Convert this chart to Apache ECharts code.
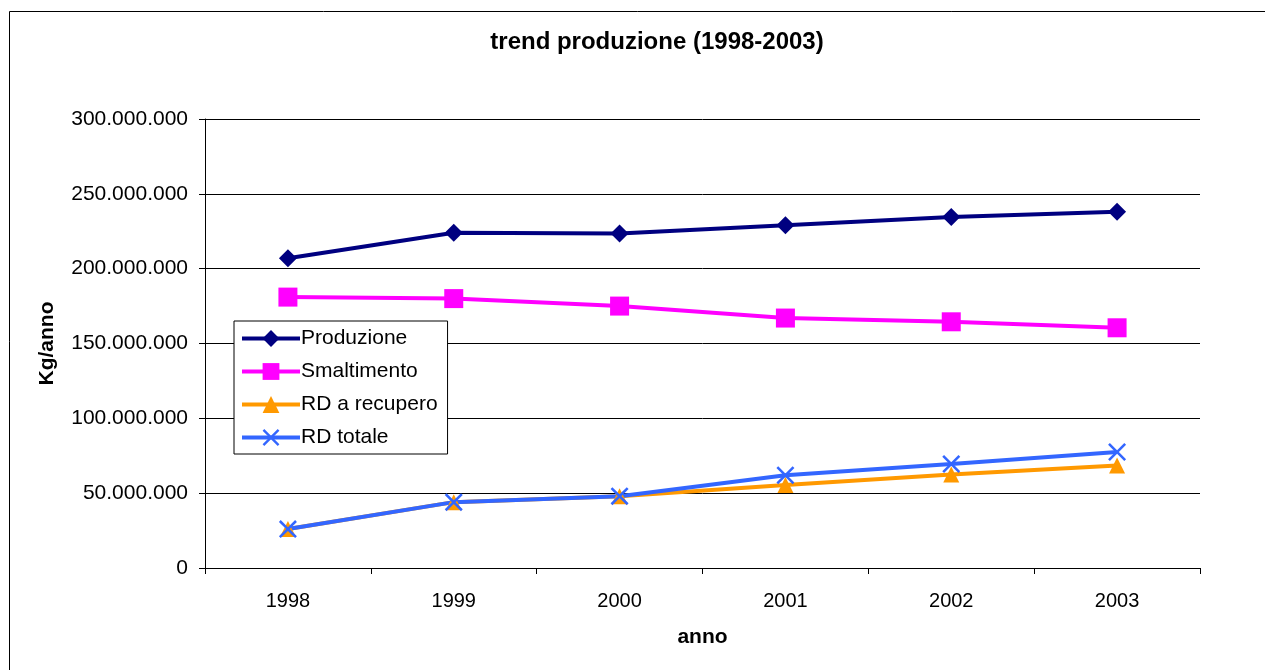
<!DOCTYPE html>
<html>
<head>
<meta charset="utf-8">
<script src="https://cdn.jsdelivr.net/npm/echarts@6/dist/echarts.min.js"></script>
<style>
  html, body { margin: 0; padding: 0; background: #fff; }
  #chart { width: 1265px; height: 670px; }
</style>
</head>
<body>
<div id="chart"></div>
<script>
const anni = ["1998", "1999", "2000", "2001", "2002", "2003"];
const produzione = [207000000, 224000000, 223500000, 229000000, 234500000, 238000000];
const smaltimento = [181000000, 180000000, 175000000, 167000000, 164500000, 160500000];
const rdRecupero = [26000000, 44000000, 48000000, 55500000, 62500000, 68500000];
const rdTotale = [26000000, 44000000, 48000000, 62000000, 69500000, 77500000];

const FONT = "Liberation Sans, Arial, sans-serif";
const crossPath = "path://M0,1L1,0L5,4L9,0L10,1L6,5L10,9L9,10L5,6L1,10L0,9L4,5Z";

// separatore migliaia col punto
const formatKg = (v) => String(v).replace(/\B(?=(\d{3})+(?!\d))/g, ".");

const chart = echarts.init(document.getElementById("chart"));

const serie = (name, data, color, symbol, size) => ({
  name,
  type: "line",
  data,
  symbol,
  symbolSize: size,
  lineStyle: { color, width: 4 },
  itemStyle: { color },
  emphasis: { disabled: true },
  z: 3,
});

chart.setOption({
  animation: false,
  textStyle: { fontFamily: FONT },
  title: {
    text: "trend produzione (1998-2003)",
    left: 652,
    top: 25,
    textAlign: "center",
    textStyle: { fontFamily: FONT, fontSize: 24, fontWeight: "bold", color: "#000" },
  },
  graphic: [
    {
      type: "rect",
      shape: { x: 9.5, y: 11.5, width: 1270, height: 680 },
      style: { fill: "none", stroke: "#000", lineWidth: 1 },
      silent: true,
      z: 0,
    },
  ],
  legend: {
    orient: "vertical",
    left: 234,
    top: 321,
    padding: [7, 10, 6, 6],
    itemGap: 12,
    itemWidth: 58,
    itemHeight: 21,
    backgroundColor: "#fff",
    borderColor: "#000",
    borderWidth: 1,
    borderRadius: 0,
    lineStyle: { width: 4 },
    textStyle: { fontFamily: FONT, fontSize: 21, color: "#000", padding: [0, 0, 0, -4] },
    data: ["Produzione", "Smaltimento", "RD a recupero", "RD totale"],
  },
  grid: { left: 205, right: 65, top: 119, bottom: 102, containLabel: false },
  xAxis: {
    type: "category",
    data: anni,
    boundaryGap: true,
    name: "anno",
    nameLocation: "middle",
    nameGap: 59,
    nameTextStyle: { fontFamily: FONT, fontSize: 21, fontWeight: "bold", color: "#000" },
    axisLine: { lineStyle: { color: "#000", width: 1 } },
    axisTick: { show: true, length: 6, lineStyle: { color: "#000" } },
    axisLabel: { fontFamily: FONT, fontSize: 20, color: "#000", margin: 23 },
  },
  yAxis: {
    type: "value",
    min: 0,
    max: 300000000,
    interval: 50000000,
    name: "Kg/anno",
    nameLocation: "middle",
    nameGap: 147,
    nameRotate: 90,
    nameTextStyle: { fontFamily: FONT, fontSize: 21, fontWeight: "bold", color: "#000" },
    axisLine: { show: true, lineStyle: { color: "#000", width: 1 } },
    axisTick: { show: true, length: 6, lineStyle: { color: "#000" } },
    axisLabel: { fontFamily: FONT, fontSize: 21, color: "#000", margin: 17, formatter: formatKg },
    splitLine: { show: true, lineStyle: { color: "#000", width: 1 } },
  },
  series: [
    serie("Produzione", produzione, "#000080", "diamond", 18),
    serie("Smaltimento", smaltimento, "#FF00FF", "rect", 19),
    serie("RD a recupero", rdRecupero, "#FF9900", "triangle", 16),
    serie("RD totale", rdTotale, "#3366FF", crossPath, 18),
  ],
});
</script>
</body>
</html>
